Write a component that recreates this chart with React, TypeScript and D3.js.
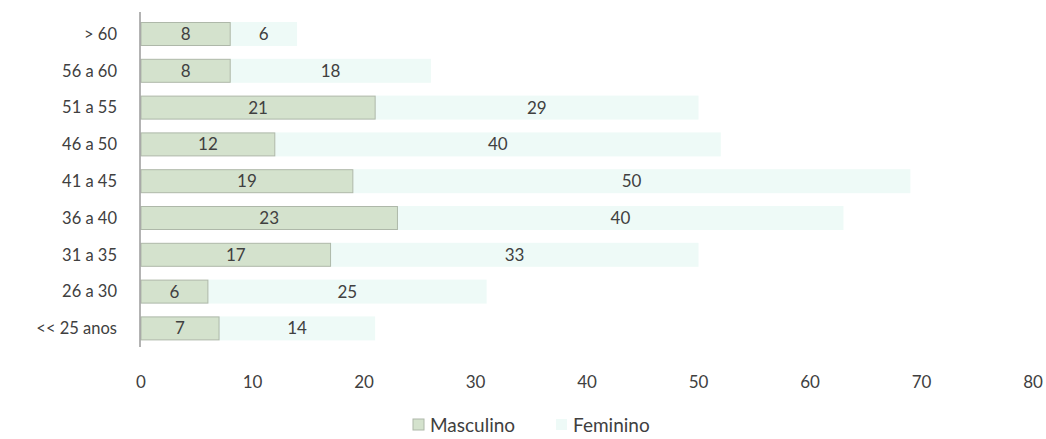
import React from "react";
import * as d3 from "d3";

const categories = [">60", "56 a 60", "51 a 55", "46 a 50", "41 a 45", "36 a 40", "31 a 35", "26 a 30", "<< 25 anos"];
const categoryLabels = ["> 60", "56 a 60", "51 a 55", "46 a 50", "41 a 45", "36 a 40", "31 a 35", "26 a 30", "<< 25 anos"];
const masculino = [8, 8, 21, 12, 19, 23, 17, 6, 7];
const feminino = [6, 18, 29, 40, 50, 40, 33, 25, 14];
const xTicks = [0, 10, 20, 30, 40, 50, 60, 70, 80];
const seriesNames = ["Masculino", "Feminino"];

const W = 1046;
const H = 439;
const FONT = "Lato, 'Open Sans', sans-serif";
const TXT = "#404040";
const MASC_FILL = "#d4e2cd";
const MASC_STROKE = "#aeb8a9";
const FEM_FILL = "#eefaf7";

export default function App() {
  const x = d3.scaleLinear().domain([0, 80]).range([141, 1033]);
  const y = d3.scaleBand<string>().domain(categories).range([15.6, 346.8]).paddingInner(0.348).paddingOuter(0.174);
  const bh = y.bandwidth();

  return (
    <svg width={W} height={H} style={{ position: "absolute", left: 0, top: 0, background: "#fff" }}>
      <rect width={W} height={H} fill="#fff" />
      {categories.map((c, i) => {
        const y0 = y(c)!;
        const m = masculino[i];
        const f = feminino[i];
        return (
          <g key={c}>
            <rect x={x(m)} y={y0} width={x(m + f) - x(m)} height={bh} fill={FEM_FILL} />
            <rect x={x(0)} y={y0 + 0.5} width={x(m) - x(0)} height={bh - 1} fill={MASC_FILL} stroke={MASC_STROKE} strokeWidth={1} />
            <text x={x(m / 2)} y={y0 + bh / 2} dy="0.35em" textAnchor="middle" fontFamily={FONT} fontSize={17} fill={TXT}>{m}</text>
            <text x={x(m + f / 2)} y={y0 + bh / 2} dy="0.35em" textAnchor="middle" fontFamily={FONT} fontSize={17} fill={TXT}>{f}</text>
            <text x={117} y={y0 + bh / 2} dy="0.35em" textAnchor="end" fontFamily={FONT} fontSize={16.5} fill={TXT}>{categoryLabels[i]}</text>
          </g>
        );
      })}
      <line x1={x(0) - 1} x2={x(0) - 1} y1={12} y2={347} stroke="#9a9a9a" strokeWidth={1.5} />
      {xTicks.map((t) => (
        <text key={t} x={x(t)} y={382} dy="0.35em" textAnchor="middle" fontFamily={FONT} fontSize={17} fill={TXT}>{t}</text>
      ))}
      <g>
        <rect x={413} y={419} width={11} height={11} fill={MASC_FILL} stroke={MASC_STROKE} />
        <text x={430} y={425} dy="0.35em" fontFamily={FONT} fontSize={19} fill={TXT}>{seriesNames[0]}</text>
        <rect x={556} y={419} width={11} height={11} fill={FEM_FILL} />
        <text x={573} y={425} dy="0.35em" fontFamily={FONT} fontSize={19} fill={TXT}>{seriesNames[1]}</text>
      </g>
    </svg>
  );
}
